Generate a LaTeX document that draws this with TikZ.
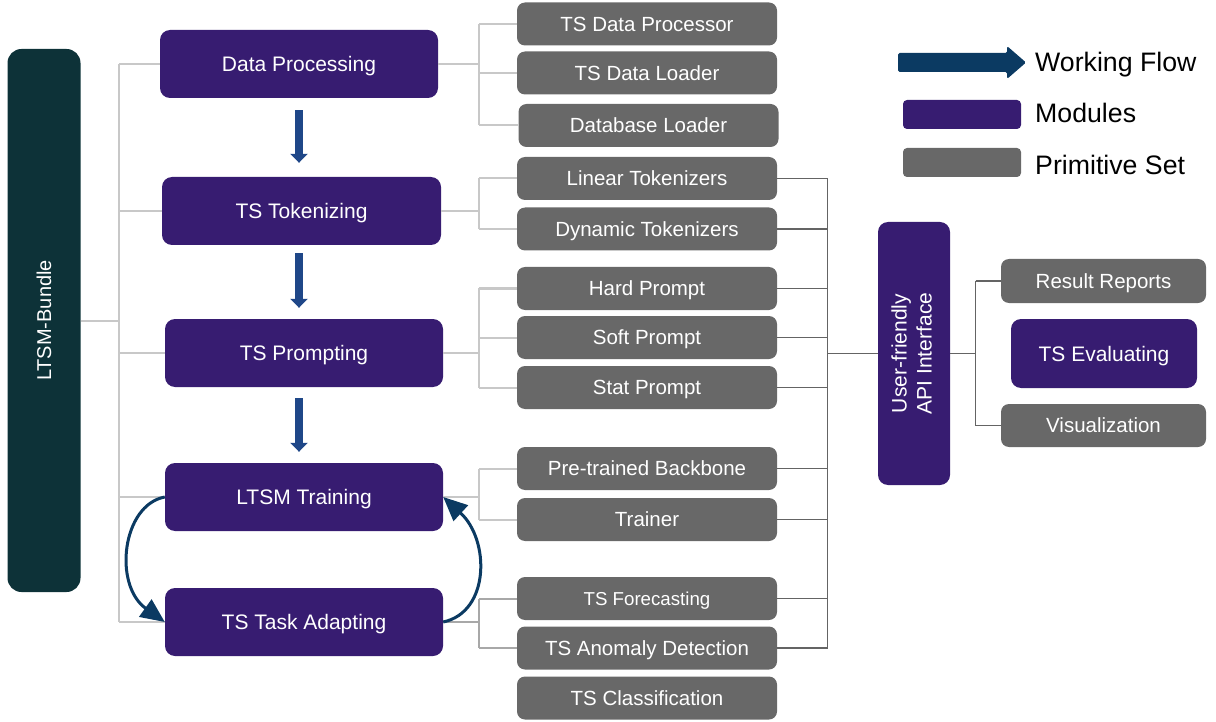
\documentclass[tikz,border=0pt]{standalone}
\usepackage{fontspec}
\usepackage{graphicx}
\setmainfont{Liberation Sans}
\usetikzlibrary{arrows.meta}
\definecolor{modc}{HTML}{371C71}
\definecolor{primc}{HTML}{686868}
\definecolor{barc}{HTML}{0D3238}
\definecolor{flowc}{HTML}{1F4788}
\definecolor{loopc}{HTML}{0B3A62}
\definecolor{ltreec}{HTML}{C8C8C8}
\definecolor{ltreed}{HTML}{A8A8A8}
\definecolor{dtreec}{HTML}{646464}
\begin{document}
\begin{tikzpicture}[x=1pt,y=-1pt,
  modbox/.style={fill=modc, rounded corners=10pt, text=white, font=\fontsize{21}{25}\selectfont,
    text height=15pt, text depth=0pt, inner sep=0pt, minimum height=68pt},
  primbox/.style={fill=primc, rounded corners=8pt, text=white, font=\fontsize{20.5}{24}\selectfont,
    text height=14.7pt, text depth=0pt, inner sep=0pt, minimum width=260pt, minimum height=43pt},
  lt/.style={draw=ltreec, line width=2pt},
  ltd/.style={draw=ltreed, line width=2pt},
  dt/.style={draw=dtreec, line width=1.6pt},
  flow/.style={draw=flowc, line width=8pt, -{Triangle[width=17pt,length=9pt]}},
  loopa/.style={draw=loopc, line width=3pt, -{Triangle[length=24pt,width=21pt]}},
  legtext/.style={anchor=base west, inner sep=0pt, font=\fontsize{26.7}{30}\selectfont, text=black}
]
\useasboundingbox (0,0) rectangle (1216,722);

% main bar
\node[fill=barc, rounded corners=14pt, minimum width=73pt, minimum height=543pt, inner sep=0pt,
  text=white, font=\fontsize{20}{24}\selectfont] (bar) at (44,320.5) {\rotatebox{90}{LTSM-Bundle}};

% modules
\node[modbox, minimum width=278pt] (dp)  at (299,64)   {Data Processing};
\node[modbox, minimum width=279pt] (tok) at (301.5,211) {TS Tokenizing};
\node[modbox, minimum width=278pt] (prm) at (304,353)  {TS Prompting};
\node[modbox, minimum width=278pt] (trn) at (304,497)  {LTSM Training};
\node[modbox, minimum width=278pt] (ada) at (304,622)  {TS Task Adapting};

% primitives
\node[primbox] (p1)  at (647,24)    {TS Data Processor};
\node[primbox] (p2)  at (647,73)    {TS Data Loader};
\node[primbox] (p3)  at (648.5,125.5) {Database Loader};
\node[primbox] (p4)  at (647,178.5) {Linear Tokenizers};
\node[primbox] (p5)  at (647,229)   {Dynamic Tokenizers};
\node[primbox] (p6)  at (647,288.5) {Hard Prompt};
\node[primbox] (p7)  at (647,337.5) {Soft Prompt};
\node[primbox] (p8)  at (647,387.5) {Stat Prompt};
\node[primbox] (p9)  at (647,468.5) {Pre-trained Backbone};
\node[primbox] (p10) at (647,519.5) {Trainer};
\node[primbox, font=\fontsize{18.7}{22}\selectfont, text height=13.4pt] (p11) at (647,598.5) {TS Forecasting};
\node[primbox] (p12) at (647,648)   {TS Anomaly Detection};
\node[primbox] (p13) at (647,698)   {TS Classification};

% API interface
\node[fill=modc, rounded corners=10pt, minimum width=72pt, minimum height=263pt, inner sep=0pt,
  text=white, font=\fontsize{21}{25}\selectfont] (api) at (914,353.5)
  {\rotatebox{90}{\begin{tabular}{@{}c@{}}User-friendly\\API Interface\end{tabular}}};

% right side
\node[primbox, minimum width=205pt, minimum height=44pt] (rr) at (1103.5,281) {Result Reports};
\node[modbox, minimum width=186pt, minimum height=69pt] (ev) at (1104,353.5) {TS Evaluating};
\node[primbox, minimum width=205pt] (vis) at (1103.5,425.5) {Visualization};

% left tree
\coordinate (lx) at (119,0);
\draw[lt] (bar.east) -- (bar.east -| lx);
\draw[lt] (lx |- dp.west) -- (lx |- ada.west);
\foreach \m in {dp,tok,prm,trn,ada} \draw[lt] (lx |- \m.west) -- (\m.west);

% module to primitive trees
\coordinate (mx) at (479,0);
\draw[lt] (dp.east) -- (mx |- dp.east);
\draw[lt] (mx |- p1.west) -- (mx |- p3.west);
\foreach \p in {p1,p2,p3} \draw[lt] (mx |- \p.west) -- (\p.west);
\draw[lt] (tok.east) -- (mx |- tok.east);
\draw[lt] (mx |- p4.west) -- (mx |- p5.west);
\foreach \p in {p4,p5} \draw[lt] (mx |- \p.west) -- (\p.west);
\draw[lt] (prm.east) -- (mx |- prm.east);
\draw[lt] (mx |- p6.west) -- (mx |- p8.west);
\foreach \p in {p6,p7,p8} \draw[lt] (mx |- \p.west) -- (\p.west);
\draw[lt] (trn.east) -- (mx |- trn.east);
\draw[lt] (mx |- p9.west) -- (mx |- p10.west);
\foreach \p in {p9,p10} \draw[lt] (mx |- \p.west) -- (\p.west);
\draw[ltd] (ada.east) -- (mx |- ada.east);
\draw[ltd] (mx |- p11.west) -- (mx |- p12.west);
\foreach \p in {p11,p12} \draw[ltd] (mx |- \p.west) -- (\p.west);

% primitives to API
\coordinate (dx) at (827.5,0);
\foreach \p in {p4,p5,p6,p7,p8,p9,p10,p11,p12} \draw[dt] (\p.east) -- (dx |- \p.east);
\draw[dt] (dx |- p4.east) -- (dx |- p12.east);
\draw[dt] (dx |- api.west) -- (api.west);

% API to right side
\coordinate (rx) at (975.5,0);
\draw[dt] (api.east) -- (rx |- api.east);
\draw[dt] (rx |- rr.west) -- (rx |- vis.west);
\draw[dt] (rx |- rr.west) -- (rr.west);
\draw[dt] (rx |- vis.west) -- (vis.west);

% working flow arrows
\draw[flow] ([yshift=-12pt]dp.south) -- ([yshift=14pt]dp.south |- tok.north);
\draw[flow] ([yshift=-8pt]dp.south |- tok.south) -- ([yshift=11pt]dp.south |- prm.north);
\draw[flow] ([yshift=-11pt]dp.south |- prm.south) -- ([yshift=11pt]dp.south |- trn.north);

% loop arrows
\draw[loopa] (trn.west) .. controls (122,505) and (113,585) .. (ada.west);
\draw[loopa] (ada.east) .. controls (490,612) and (490,540) .. (trn.east);

% legend
\fill[loopc, rounded corners=1.5pt] (898,53) -- (1007,53) -- (1007,46) -- (1026,62.5)
  -- (1007,79) -- (1007,72) -- (898,72) -- cycle;
\node[fill=modc, rounded corners=4pt, minimum width=118pt, minimum height=29pt, inner sep=0pt] (legmod) at (962,114.5) {};
\node[fill=primc, rounded corners=4pt, minimum width=118pt, minimum height=29pt, inner sep=0pt] (legprim) at (962,162.5) {};
\node[legtext] (lt1) at (1035,72) {Working Flow};
\node[legtext] (lt2) at (1035,123) {Modules};
\node[legtext] (lt3) at (1035,175) {Primitive Set};
\end{tikzpicture}
\end{document}
